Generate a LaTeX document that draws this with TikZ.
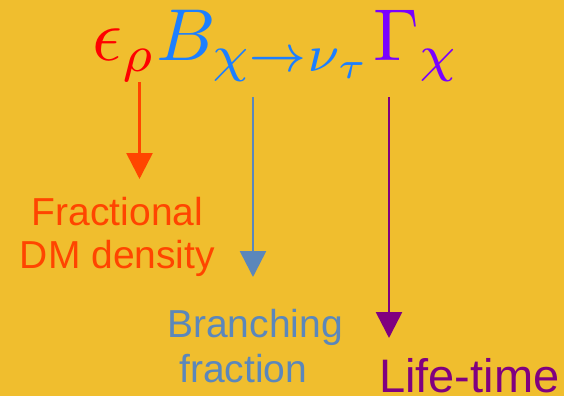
\RequirePackage{fix-cm}
\documentclass[tikz,border=0pt]{standalone}
\usepackage{fontspec}
\usepackage{graphicx}
\setmainfont{Liberation Sans}
\usetikzlibrary{arrows.meta}
\definecolor{bg}{HTML}{F0BE2E}
\definecolor{cred}{HTML}{FF0000}
\definecolor{cblue}{HTML}{1C7FFF}
\definecolor{cviolet}{HTML}{7A00FF}
\definecolor{corange}{HTML}{FF4500}
\definecolor{csteel}{HTML}{5B87BB}
\definecolor{cpurple}{HTML}{800080}
\tikzset{
  lbl/.style={inner sep=0pt, align=center, font=\fontsize{39}{43}\selectfont},
  arr/.style={line width=2.6pt, -{Triangle[width=26pt,length=26pt]}},
}
\begin{document}
\begin{tikzpicture}[x=1pt,y=-1pt]
\fill[bg] (0,0) rectangle (564,396);
\useasboundingbox (0,0) rectangle (564,396);
\node[inner sep=0pt, anchor=base west, font=\fontsize{10}{12}\selectfont] (formula) at (92,60)
  {\scalebox{7.36}{$\color{cred}\epsilon_\rho\color{cblue}B_{\chi\rightarrow\nu_\tau}\color{cviolet}\Gamma_\chi$}};
\node[lbl, text=corange, anchor=base] (frac) at (117.5,268) {Fractional\\DM density};
\node[lbl, text=csteel, anchor=base west, align=left, font=\fontsize{39}{45}\selectfont] (branch) at (167,382) {Branching\\\hspace*{12pt}fraction};
\node[lbl, text=cpurple, anchor=base west, font=\fontsize{47}{50}\selectfont] (life) at (379,392) {Life-time};
\coordinate (s1) at (139.5,82);
\coordinate (e1) at (139.5,179);
\coordinate (s2) at (253,97);
\coordinate (e2) at (253,277);
\coordinate (s3) at (389,97);
\coordinate (e3) at (389,338);
\draw[arr, corange] (s1) -- (e1);
\draw[arr, csteel] (s2) -- (e2);
\draw[arr, cpurple] (s3) -- (e3);
\end{tikzpicture}
\end{document}
